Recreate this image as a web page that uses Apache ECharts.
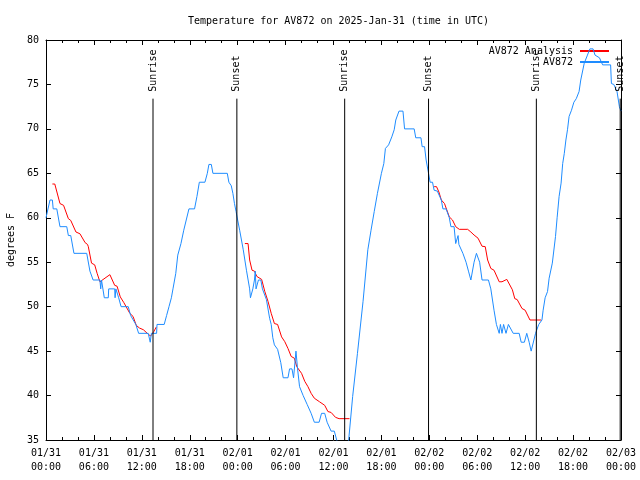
<!DOCTYPE html>
<html>
<head>
<meta charset="utf-8">
<script src="https://cdn.jsdelivr.net/npm/echarts@6/dist/echarts.min.js"></script>
<style>html,body{margin:0;padding:0;background:#fff}#c{width:640px;height:480px}</style>
</head>
<body>
<div id="c"></div>
<script>
// Hours since 2025-01-31 00:00 UTC
var xTickLabels = ["01/31\n00:00","01/31\n06:00","01/31\n12:00","01/31\n18:00","02/01\n00:00","02/01\n06:00","02/01\n12:00","02/01\n18:00","02/02\n00:00","02/02\n06:00","02/02\n12:00","02/02\n18:00","02/03\n00:00"];

var obsHours = [0.0,0.2,0.5,0.8,0.9,1.35,1.75,2.6,2.8,3.1,3.5,5.1,5.5,5.9,6.75,6.85,6.95,7.3,7.8,7.85,8.6,8.65,8.75,9.1,9.4,10.3,10.6,11.25,11.6,12.8,13.05,13.2,13.85,13.9,14.8,15.1,15.4,15.7,15.9,16.25,16.5,16.9,17.25,17.9,18.6,18.9,19.2,19.9,20.2,20.4,20.7,20.9,22.7,22.9,23.2,23.4,23.6,23.8,24.0,24.25,24.7,25.1,25.5,25.6,25.8,25.9,26.1,26.2,26.3,26.6,26.9,27.1,27.6,28.0,28.2,28.4,28.6,29.0,29.4,29.7,30.3,30.5,30.8,31.0,31.3,31.5,31.75,32.2,32.7,33.2,33.6,34.2,34.5,34.9,35.2,35.7,36.1,36.4,36.8,37.5,37.9,38.4,39.0,39.7,40.3,40.7,41.1,41.5,42.0,42.3,42.5,42.9,43.3,43.6,43.8,44.2,44.7,44.9,46.1,46.3,46.95,47.1,47.4,47.6,47.9,48.1,48.4,48.6,49.0,49.5,49.7,50.1,50.5,50.7,51.1,51.3,51.5,51.6,51.7,52.2,52.6,52.9,53.2,53.4,53.6,53.9,54.3,54.6,55.4,55.7,56.1,56.4,56.75,56.9,57.1,57.3,57.6,57.9,58.1,58.5,59.25,59.5,59.9,60.2,60.5,60.75,61.0,61.3,61.7,62.1,62.25,62.5,62.8,63.0,63.4,63.8,64.0,64.25,64.5,64.7,64.9,65.1,65.3,65.5,65.8,66.1,66.4,66.75,66.96,67.4,67.6,67.8,68.1,68.5,68.75,69.3,69.7,70.7,70.8,71.1,71.3,71.5,71.8,72.0];
var obsTemps = [60,60,62,62,61,61,59,59,58,58,56,56,54,53,53,52,53,51,51,52,52,51,52,51,50,50,49,48,47,47,46,47,47,48,48,49,50,51,52,53.75,55.8,57.1,58.6,61,61,62.4,64,64,65,66,66,65,65,64,63.6,62.75,61.6,60.7,59.75,58.6,56.4,54.1,52,51,51,52,53,54,52,53,53,52,50.8,48.7,48,46.5,45.7,45.2,43.7,42,42,43,43,42,45,43,41,40,39,38,37,37,38,38,37,36,36,35,34,34,35,39.9,44.75,50.6,56.4,58.6,60.7,62.75,65,66.1,67.8,68.2,69.1,69.9,71,72,72,70,70,69,69,68,68,66.5,65,64,64,63.1,63,62,61,61,60,59,59,57.1,57,58,57,56,55,54,53,53,55,56,55,53,53,52,49.6,48,47,48,47,48,47,48,48,47,47,46,46,47,46,45,45,47,48,48.5,49.6,51,51.7,53.2,54.9,57.9,60,62.4,63.9,66.1,67.25,68.75,69.9,71.4,72.1,73,73.4,74.2,75.5,77.4,77.4,78.3,79,79,78.3,78,77.2,77.2,75.1,75,74.6,74.2,72.5,72];

var anaHours = [0.8,1.1,1.75,2.2,2.8,3.1,3.75,4.25,4.9,5.2,5.3,5.7,6.1,6.4,6.75,8.0,8.6,8.9,9.3,9.75,10.0,10.5,10.9,11.3,11.7,12.2,12.8,13.1,13.5,13.8,
  18.0,
  24.9,25.3,25.5,25.8,26.1,26.4,27.0,27.4,27.8,28.2,28.6,29.0,29.5,29.9,30.3,30.7,31.1,31.4,32.0,32.4,32.8,33.2,33.6,34.25,34.9,35.3,35.7,36.25,36.7,38.0,
  43.0,
  48.6,48.9,49.2,49.5,49.9,50.1,50.5,50.9,51.3,51.75,52.8,53.2,53.6,54.1,54.6,55.0,55.3,55.7,56.1,56.75,57.1,57.7,57.9,58.4,58.7,59.0,59.6,60.0,60.6,62.0];
var anaTemps = [63.8,63.8,61.6,61.4,59.9,59.7,58.4,58.2,57.2,57.0,56.75,54.9,54.7,53.75,52.8,53.6,52.4,52.3,51.1,50.45,50.4,49.25,48.9,47.9,47.6,47.4,46.9,46.7,47.2,47.7,
  null,
  57.1,57.1,55.25,54.1,54,53.4,53.07,51.7,50.6,49.25,48.1,48,46.6,46.06,45.3,44.4,44.2,43.25,42.5,41.6,41.0,40.25,39.7,39.3,38.9,38.2,38.1,37.55,37.4,37.4,
  null,
  63.5,63.5,62.9,62,61.6,61.1,60.1,59.75,59.0,58.7,58.7,58.4,58.06,57.7,56.8,56.75,55.25,54.3,54.1,52.8,52.8,53.07,53,51.9,50.9,50.8,49.8,49.6,48.5,48.5];

var eventHours = [13.4, 23.9, 37.4, 47.9, 61.4, 71.9];
var eventNames = ["Sunrise","Sunset","Sunrise","Sunset","Sunrise","Sunset"];
var eventLineTop = 73.4;

var FONT = "DejaVu Sans Mono";

function pairs(xs, ys) {
  var out = [];
  for (var i = 0; i < xs.length; i++) out.push([xs[i], ys[i]]);
  return out;
}

var chart = echarts.init(document.getElementById('c'), null, {renderer: 'canvas'});
var axisLineStyle = {color: '#000', width: 1};
var option = {
  animation: false,
  backgroundColor: '#fff',
  title: {
    text: 'Temperature for AV872 on 2025-Jan-31 (time in UTC)',
    left: 183, top: 11,
    textStyle: {fontFamily: FONT, fontSize: 10, fontWeight: 'normal', color: '#000'}
  },
  legend: {
    orient: 'vertical', right: 30, top: 46, align: 'right', padding: 0,
    itemWidth: 29, itemHeight: 12, itemGap: 1,
    itemStyle: {opacity: 0},
    textStyle: {fontFamily: FONT, fontSize: 10, color: '#000', padding: [0, 2, 0, 0]},
    data: ['AV872 Analysis', 'AV872']
  },
  grid: {left: 46, right: 19, top: 40, bottom: 40, containLabel: false, outerBoundsMode: 'none'},
  xAxis: [{
    type: 'value', min: 0, max: 72, interval: 6, position: 'bottom',
    axisLine: {onZero: false, lineStyle: axisLineStyle},
    axisTick: {inside: true, length: 5, lineStyle: axisLineStyle},
    minorTick: {show: true, splitNumber: 3, length: 3, lineStyle: axisLineStyle},
    axisLabel: {fontFamily: FONT, fontSize: 10, color: '#000', lineHeight: 14, margin: 6,
      formatter: function (v) { return xTickLabels[Math.round(v / 6)]; }},
    splitLine: {show: false}
  }, {
    type: 'value', min: 0, max: 72, interval: 6, position: 'top',
    axisLine: {onZero: false, lineStyle: axisLineStyle},
    axisTick: {inside: true, length: 5, lineStyle: axisLineStyle},
    minorTick: {show: true, splitNumber: 3, length: 3, lineStyle: axisLineStyle},
    axisLabel: {show: false}, splitLine: {show: false}
  }],
  yAxis: [{
    type: 'value', min: 35, max: 80, interval: 5, position: 'left',
    name: 'degrees F', nameLocation: 'middle', nameGap: 30,
    nameTextStyle: {fontFamily: FONT, fontSize: 10, color: '#000'},
    axisLine: {onZero: false, lineStyle: axisLineStyle},
    axisTick: {inside: true, length: 5, lineStyle: axisLineStyle},
    axisLabel: {fontFamily: FONT, fontSize: 10, color: '#000', margin: 7},
    splitLine: {show: false}
  }, {
    type: 'value', min: 35, max: 80, interval: 5, position: 'right',
    axisLine: {onZero: false, lineStyle: axisLineStyle},
    axisTick: {inside: true, length: 5, lineStyle: axisLineStyle},
    axisLabel: {show: false}, splitLine: {show: false}
  }],
  series: [{
    name: 'AV872 Analysis', type: 'line', data: pairs(anaHours, anaTemps),
    symbol: 'none', showSymbol: false, connectNulls: false, silent: true,
    lineStyle: {color: '#ff0000', width: 1}, itemStyle: {color: '#ff0000'}, z: 3
  }, {
    name: 'AV872', type: 'line', data: pairs(obsHours, obsTemps),
    symbol: 'none', showSymbol: false, silent: true,
    lineStyle: {color: '#1e8cff', width: 1}, itemStyle: {color: '#1e8cff'}, z: 4
  }, {
    type: 'custom', silent: true, z: 5, clip: false,
    data: eventHours.map(function (h, i) { return [h, eventNames[i]]; }),
    renderItem: function (params, api) {
      var h = api.value(0);
      var i = params.dataIndex;
      var p0 = api.coord([h, 35]);
      var p1 = api.coord([h, eventLineTop]);
      return {
        type: 'group',
        children: [{
          type: 'line',
          shape: {x1: p0[0], y1: p0[1], x2: p1[0], y2: p1[1]},
          style: {stroke: '#000', lineWidth: 1}
        }, {
          type: 'text',
          x: p1[0], y: p1[1] - 7, rotation: Math.PI / 2,
          style: {text: eventNames[i], fontFamily: FONT, fontSize: 10, fill: '#000',
            align: 'left', verticalAlign: 'middle'}
        }]
      };
    }
  }]
};
chart.setOption(option);
</script>
</body>
</html>
